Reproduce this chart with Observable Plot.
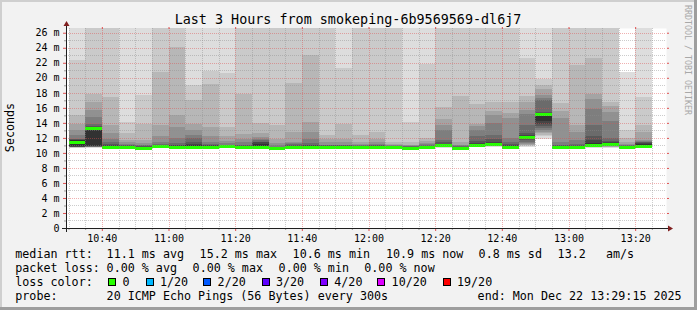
<!DOCTYPE html>
<html><head><meta charset="utf-8">
<script src="https://cdn.jsdelivr.net/npm/d3@7"></script>
<script src="https://cdn.jsdelivr.net/npm/@observablehq/plot@0.6"></script>
<style>html,body{margin:0;padding:0;background:#f2f2f2}svg{display:block}</style>
</head><body><div id="chart"></div>
<script>
// ---------- data ----------
const day = "2025-12-22";
const windowStart = "10:29:15";
const windowEnd = "13:29:15";
// RRD step end times (each step = 300 s)
const times = ["10:35","10:40","10:45","10:50","10:55","11:00","11:05","11:10","11:15","11:20","11:25","11:30","11:35","11:40","11:45","11:50","11:55","12:00","12:05","12:10","12:15","12:20","12:25","12:30","12:35","12:40","12:45","12:50","12:55","13:00","13:05","13:10","13:15","13:20","13:25"];
// median rtt in ms
const median = [11.5,13.25,10.85,10.8,10.6,10.9,10.85,10.85,10.85,10.9,10.8,10.8,10.6,10.85,10.85,10.8,10.85,10.8,10.8,10.8,10.7,10.8,11.0,10.7,11.05,11.15,10.75,12.15,15.2,10.8,10.8,11.05,11.2,10.8,10.95];
// lost pings out of 20
const loss = [0,0,0,0,0,0,0,0,0,0,0,0,0,0,0,0,0,0,0,0,0,0,0,0,0,0,0,0,0,0,0,0,0,0,0];
// the 20 sorted ping rtts (ms) of each step
const pings = [
  [10.6,10.68,10.72,10.75,10.77,10.79,10.8,10.82,10.84,10.86,11.7,11.75,11.8,11.9,12.4,13.0,13.9,15.0,22.4,28],
  [10.6,10.72,10.76,10.78,10.8,10.82,10.84,10.86,10.88,10.9,13.1,13.3,13.6,13.9,14.8,15.7,16.8,17.9,28,28],
  [10.55,10.65,10.7,10.72,10.75,10.77,10.79,10.8,10.82,10.85,10.95,11.05,11.2,11.5,11.9,12.6,13.7,17.5,28,28],
  [10.5,10.6,10.65,10.68,10.7,10.72,10.74,10.76,10.78,10.8,10.86,10.92,11.0,11.1,11.25,11.4,11.7,12.6,14.1,28],
  [10.45,10.5,10.53,10.55,10.57,10.59,10.6,10.62,10.64,10.66,10.72,10.8,10.9,11.0,11.1,11.3,11.7,13.8,17.7,28],
  [10.6,10.68,10.72,10.76,10.78,10.8,10.82,10.84,10.86,10.88,10.95,11.0,11.05,11.2,11.5,12.2,13.7,20.8,28,28],
  [10.6,10.68,10.72,10.75,10.77,10.79,10.8,10.82,10.84,10.86,10.92,11.0,11.1,11.3,12.0,13.5,15.0,24.1,28,28],
  [10.6,10.68,10.72,10.75,10.77,10.79,10.8,10.82,10.84,10.87,11.0,11.2,11.5,12.0,12.4,13.1,13.9,17.0,19.0,28],
  [10.62,10.7,10.74,10.76,10.78,10.8,10.81,10.83,10.85,10.87,10.95,11.0,11.05,11.2,11.5,12.2,13.5,19.2,20.9,28],
  [10.62,10.7,10.74,10.77,10.8,10.82,10.84,10.86,10.88,10.9,10.95,11.0,11.05,11.1,11.3,11.6,12.2,13.5,20.6,28],
  [10.55,10.63,10.68,10.7,10.72,10.74,10.76,10.78,10.8,10.82,10.9,10.95,11.0,11.1,11.4,11.8,12.5,17.8,28,28],
  [10.55,10.63,10.68,10.7,10.72,10.74,10.76,10.78,10.8,10.85,11.2,11.4,11.5,11.7,11.9,12.1,12.6,14.0,28,28],
  [10.45,10.5,10.53,10.55,10.57,10.59,10.6,10.62,10.64,10.66,10.7,10.75,10.8,10.85,11.0,11.3,11.9,13.7,28,28],
  [10.6,10.68,10.72,10.75,10.77,10.79,10.8,10.82,10.84,10.86,10.92,10.98,11.05,11.15,11.3,11.5,12.8,19.3,28,28],
  [10.6,10.68,10.72,10.75,10.77,10.79,10.8,10.82,10.84,10.86,10.95,11.0,11.1,11.3,11.8,12.8,14.1,23.0,28,28],
  [10.58,10.65,10.7,10.72,10.74,10.76,10.78,10.8,10.81,10.83,10.88,10.93,11.0,11.05,11.1,11.4,11.8,12.4,28,28],
  [10.6,10.68,10.72,10.75,10.77,10.79,10.8,10.82,10.84,10.86,10.9,10.95,11.0,11.05,11.1,11.4,11.9,13.9,21.3,28],
  [10.58,10.65,10.7,10.72,10.74,10.76,10.78,10.8,10.81,10.83,10.87,10.92,10.97,11.05,11.1,11.2,11.5,12.4,28,28],
  [10.58,10.65,10.7,10.72,10.74,10.76,10.78,10.8,10.81,10.83,10.88,10.95,11.05,11.1,11.2,11.4,11.9,12.8,28,28],
  [10.58,10.65,10.7,10.72,10.74,10.76,10.78,10.8,10.81,10.83,10.86,10.9,10.94,10.98,11.05,11.1,11.2,11.5,28,28],
  [10.5,10.57,10.6,10.62,10.64,10.66,10.68,10.7,10.71,10.73,10.76,10.8,10.84,10.88,10.92,11.0,11.1,11.4,14.1,28],
  [10.58,10.65,10.7,10.72,10.74,10.76,10.78,10.8,10.81,10.83,10.87,10.92,10.98,11.05,11.15,11.3,11.6,12.0,21.9,28],
  [10.7,10.78,10.82,10.85,10.88,10.9,10.92,10.94,10.96,10.98,11.1,11.2,11.4,11.7,13.0,13.7,14.5,16.15,28,28],
  [10.5,10.57,10.6,10.62,10.64,10.66,10.68,10.7,10.71,10.73,10.76,10.8,10.85,10.9,11.0,11.1,11.5,17.6,28,28],
  [10.75,10.82,10.86,10.9,10.92,10.94,10.96,10.98,11.0,11.02,11.15,11.3,11.6,12.3,13.0,13.6,13.8,16.55,28,28],
  [10.8,10.88,10.92,10.95,10.98,11.0,11.02,11.05,11.08,11.1,11.3,11.5,11.8,12.4,14.0,15.0,15.6,16.8,28,28],
  [10.55,10.62,10.66,10.68,10.7,10.72,10.73,10.74,10.76,10.78,10.9,11.0,11.2,11.5,12.0,14.6,15.3,16.8,28,28],
  [10.85,10.95,11.05,11.1,11.2,11.3,11.5,11.7,11.9,12.05,12.25,12.4,12.6,13.7,15.2,15.7,16.8,17.6,22.6,28],
  [11.9,12.2,12.4,12.6,12.8,13.0,13.3,13.6,13.9,14.2,15.25,15.3,15.4,17.0,17.3,17.7,18.5,19.1,19.9,28],
  [10.58,10.65,10.7,10.72,10.74,10.76,10.78,10.8,10.81,10.83,10.88,10.95,11.0,11.1,11.5,14.6,15.6,16.7,28,28],
  [10.58,10.65,10.7,10.72,10.74,10.76,10.78,10.8,10.81,10.83,10.88,10.95,11.0,11.2,11.7,12.8,13.7,21.7,28,28],
  [10.65,10.72,10.76,10.79,10.82,10.85,10.88,10.9,10.93,10.96,11.3,11.7,12.2,13.7,15.9,17.2,17.9,22.6,28,28],
  [10.7,10.78,10.82,10.85,10.88,10.9,10.92,10.94,10.98,11.1,11.3,11.4,11.6,12.0,14.3,15.4,16.2,16.8,28,28],
  [10.58,10.65,10.7,10.72,10.74,10.76,10.78,10.8,10.81,10.83,10.87,10.92,10.98,11.05,11.1,11.2,11.5,12.0,13.0,20.8],
  [10.7,10.78,10.82,10.85,10.88,10.9,10.92,10.94,10.96,10.98,11.15,11.3,11.4,11.5,11.6,11.7,12.8,13.7,17.5,28]
];
const yMax = 26.63;
const yMajorTicks = [0,2,4,6,8,10,12,14,16,18,20,22,24,26];
const yMinorTicks = [1,3,5,7,9,11,13,15,17,19,21,23,25];
const xMajorTicks = ["10:40","11:00","11:20","11:40","12:00","12:20","12:40","13:00","13:20"];
const lossLegend = ["0","1/20","2/20","3/20","4/20","10/20","19/20"];
const lossLegendCount = [0,1,2,3,4,10,19];
const statsRtt = ["11.1 ms avg","15.2 ms max","10.6 ms min","10.9 ms now","0.8 ms sd","13.2","am/s"];
const statsLoss = ["0.00 % avg","0.00 % max","0.00 % min","0.00 % now"];
const probeText = "20 ICMP Echo Pings (56 Bytes) every 300s";
const endText = "end: Mon Dec 22 13:29:15 2025";
const titleText = "Last 3 Hours from smokeping-6b9569569-dl6j7";

// ---------- styles ----------
const smokeColors = ["#dddddd","#cacaca","#b7b7b7","#a4a4a4","#919191","#7e7e7e","#6b6b6b","#585858","#454545","#323232"];
const lossColorOf = n => n === 0 ? "#26ff00" : n <= 1 ? "#00b8ff" : n <= 2 ? "#0059ff" : n <= 3 ? "#5e00ff" : n <= 4 ? "#7e00ff" : n <= 10 ? "#dd00ff" : "#ff0000";
const gridCol = "rgba(143,143,143,0.45)";
const mgridCol = "rgba(222,79,79,0.45)";
const mono = "DejaVu Sans Mono";

const T = s => new Date(`${day}T${s.length === 5 ? s + ":00" : s}Z`);
const tStart = T(windowStart), tEnd = T(windowEnd);
const steps = times.map((t, i) => {
  const x2 = T(t);
  const x1 = new Date(Math.max(+x2 - 300000, +tStart));
  return {x1, x2, median: median[i], loss: loss[i], pings: pings[i]};
});
const bands = [];
steps.forEach(s => {
  for (let k = 0; k < 10; k++) bands.push({x1: s.x1, x2: s.x2, y1: s.pings[k], y2: s.pings[19 - k], fill: smokeColors[k]});
});
const xMajor = xMajorTicks.map(T);
const xMinor = d3.utcMinute.every(5).range(T("10:30"), T("13:30")).filter(d => d.getUTCMinutes() % 20 !== 0);

const plot = Plot.plot({
  width: 697, height: 310,
  marginLeft: 66, marginRight: 31, marginTop: 28, marginBottom: 82,
  x: {type: "utc", domain: [tStart, tEnd]},
  y: {domain: [0, yMax]},
  color: {type: "identity"},
  style: {background: "#f2f2f2", fontFamily: mono, fontSize: "10px", color: "#000", overflow: "visible"},
  marks: [
    Plot.frame({fill: "#ffffff", stroke: null}),
    Plot.rect(bands, {x1: "x1", x2: "x2", y1: "y1", y2: "y2", fill: "fill", clip: true, shapeRendering: "crispEdges"}),
    Plot.ruleY(steps, {y: "median", x1: "x1", x2: "x2", stroke: d => lossColorOf(d.loss), strokeWidth: 3, shapeRendering: "crispEdges"}),
    Plot.ruleY(yMinorTicks, {stroke: gridCol, strokeDasharray: "1,1", shapeRendering: "crispEdges"}),
    Plot.ruleY(yMajorTicks.filter(v => v > 0), {stroke: mgridCol, strokeDasharray: "1,1", shapeRendering: "crispEdges"}),
    Plot.ruleX(xMinor, {stroke: gridCol, strokeDasharray: "1,1", shapeRendering: "crispEdges"}),
    Plot.ruleX(xMajor, {stroke: mgridCol, strokeDasharray: "1,1", shapeRendering: "crispEdges"}),
    Plot.axisY(yMajorTicks, {anchor: "left", tickSize: 0, tickPadding: 7, tickFormat: d => d === 0 ? "0" : `${d} m`, fontFamily: mono, fontSize: 10, fill: "#000", label: null}),
    Plot.axisY(yMajorTicks, {anchor: "left", tickSize: 3, tickFormat: () => "", stroke: "#e05050", label: null}),
    Plot.axisY(yMinorTicks, {anchor: "left", tickSize: 2, tickFormat: () => "", stroke: "#999", label: null}),
    Plot.axisY(yMajorTicks, {anchor: "right", tickSize: 2, tickFormat: () => "", stroke: "#e05050", label: null}),
    Plot.axisX(xMajor, {anchor: "bottom", tickSize: 0, tickPadding: 6, tickFormat: d3.utcFormat("%H:%M"), fontFamily: mono, fontSize: 10, fill: "#000", label: null}),
    Plot.axisX(xMajor, {anchor: "bottom", tickSize: 3, tickFormat: () => "", stroke: "#e05050", label: null}),
    Plot.axisX(xMinor, {anchor: "bottom", tickSize: 2, tickFormat: () => "", stroke: "#999", label: null}),
    Plot.axisX(xMajor, {anchor: "top", tickSize: 2, tickFormat: () => "", stroke: "#e05050", label: null})
  ]
});
document.getElementById("chart").appendChild(plot);

// ---------- decorations (axes lines, arrows, title, legend) ----------
const svg = d3.select(plot);
const xs = plot.scale("x"), ys = plot.scale("y");
const X0 = xs.apply(tStart), X1 = xs.apply(tEnd), Y0 = ys.apply(0), Y1 = ys.apply(yMax);
const deco = svg.append("g").attr("text-anchor", "start");
// border shading
deco.append("rect").attr("x", 0).attr("y", 0).attr("width", 697).attr("height", 2).attr("fill", "#cfcfcf");
deco.append("rect").attr("x", 0).attr("y", 0).attr("width", 2).attr("height", 310).attr("fill", "#cfcfcf");
deco.append("rect").attr("x", 0).attr("y", 307).attr("width", 697).attr("height", 3).attr("fill", "#9e9e9e");
deco.append("rect").attr("x", 694).attr("y", 0).attr("width", 3).attr("height", 310).attr("fill", "#9e9e9e");
// axes
deco.append("line").attr("x1", X0 - 4).attr("x2", X1 + 4).attr("y1", Y0 + 0.5).attr("y2", Y0 + 0.5).attr("stroke", "#1f1f1f").attr("shape-rendering", "crispEdges");
deco.append("line").attr("x1", X0 + 0.5).attr("x2", X0 + 0.5).attr("y1", Y0 + 4).attr("y2", Y1 - 4).attr("stroke", "#1f1f1f").attr("shape-rendering", "crispEdges");
deco.append("path").attr("d", `M${X1 + 2},${Y0 - 2.5}L${X1 + 7},${Y0 + 0.5}L${X1 + 2},${Y0 + 3.5}Z`).attr("fill", "#801f1f");
deco.append("path").attr("d", `M${X0 - 2.5},${Y1 - 2}L${X0 + 0.5},${Y1 - 7}L${X0 + 3.5},${Y1 - 2}Z`).attr("fill", "#801f1f");
// title
deco.append("text").attr("x", 348).attr("y", 24).attr("text-anchor", "middle").attr("font-family", mono).attr("font-size", 13.4).attr("fill", "#000").text(titleText);
// y label
deco.append("text").attr("transform", "translate(14.3,127.5) rotate(-90)").attr("text-anchor", "middle").attr("font-family", mono).attr("font-size", 11.7).attr("fill", "#000").text("Seconds");
// watermark
deco.append("text").attr("transform", "translate(685,60) rotate(90)").attr("text-anchor", "middle").attr("font-family", mono).attr("font-size", 8.3).attr("fill", "#a8a8a8").text("RRDTOOL / TOBI OETIKER");
// legend
const lt = (x, y, s) => deco.append("text").attr("x", x).attr("y", y).attr("text-anchor", "start").attr("font-family", mono).attr("font-size", 11.7).attr("fill", "#000").style("white-space", "pre").text(s);
const r1 = 257.5, r2 = 271.5, r3 = 285.5, r4 = 299.5;
lt(15.3, r1, "median rtt:");
[106.6, 199.6, 292.6, 386, 478.6, 557.6, 606].forEach((x, i) => lt(x, r1, statsRtt[i]));
lt(15.3, r2, "packet loss:");
[106.6, 192.6, 278.6, 364.3].forEach((x, i) => lt(x, r2, statsLoss[i]));
lt(15.3, r3, "loss color:");
[108.3, 145.7, 203.3, 261.7, 320, 377.3, 442.7].forEach((x, i) => {
  deco.append("rect").attr("x", Math.round(x) + 0.5).attr("y", 278.5).attr("width", 7).attr("height", 7)
    .attr("fill", lossColorOf(lossLegendCount[i])).attr("stroke", "#000").attr("stroke-width", 1);
  lt(x + 14.3, r3, lossLegend[i]);
});
lt(15.3, r4, "probe:");
lt(106.6, r4, probeText);
lt(477.6, r4, endText);
</script>
</body></html>
